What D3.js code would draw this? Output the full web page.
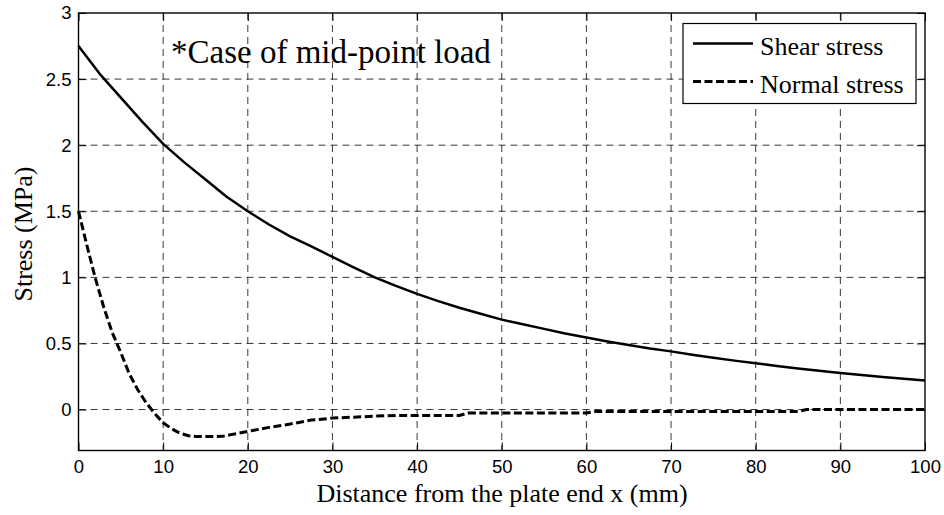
<!DOCTYPE html>
<html><head><meta charset="utf-8">
<script src="https://cdn.jsdelivr.net/npm/d3@7"></script>
<style>body{margin:0;background:#fff;}svg{display:block;}</style>
</head><body>
<script>
const shearX = [0,2.5,5,7.5,10,12.5,15,17.5,20,22.5,25,27.5,30,32.5,35,37.5,40,42.5,45,47.5,50,52.5,55,57.5,60,62.5,65,67.5,70,72.5,75,77.5,80,82.5,85,87.5,90,92.5,95,97.5,100];
const shearY = [2.75,2.54,2.36,2.18,2.01,1.87,1.74,1.61,1.50,1.40,1.31,1.235,1.155,1.075,1.0,0.935,0.875,0.82,0.77,0.725,0.68,0.645,0.61,0.575,0.545,0.515,0.488,0.462,0.44,0.415,0.392,0.37,0.35,0.33,0.311,0.293,0.276,0.261,0.246,0.232,0.22];
const normalX = [0,1,2,3,4,5,6,7,8,9,10,11,12,13,14,15,16,17,18,20,22.5,25,27.5,30,32.5,35,37.5,45,46,60,61,85,86,100];
const normalY = [1.5,1.24,0.99,0.77,0.58,0.43,0.27,0.15,0.05,-0.03,-0.10,-0.145,-0.18,-0.198,-0.205,-0.205,-0.205,-0.203,-0.19,-0.166,-0.135,-0.11,-0.08,-0.065,-0.058,-0.05,-0.045,-0.045,-0.027,-0.027,-0.015,-0.015,0,0];
const xTicks = [0,10,20,30,40,50,60,70,80,90,100];
const yTicks = [0,0.5,1,1.5,2,2.5,3];
const seriesNames = ["Shear stress","Normal stress"];
const xLabel = "Distance from the plate end x (mm)";
const yLabel = "Stress (MPa)";
const note = "*Case of mid-point load";

const W = 944, H = 515;
const L = 78.5, R = 925, T = 13, B = 450.5;
const svg = d3.select("body").append("svg").attr("width", W).attr("height", H);
const x = d3.scaleLinear().domain([0,100]).range([L,R]);
const y = d3.scaleLinear().domain([-0.31,3]).range([B,T]);

// grid
const g = svg.append("g");
g.selectAll(".gx").data(xTicks.slice(1,-1)).enter().append("line")
  .attr("x1", d=>x(d)).attr("x2", d=>x(d)).attr("y1", T).attr("y2", B)
  .attr("stroke", "#222").attr("stroke-width", 0.9).attr("stroke-dasharray", "7,5");
g.selectAll(".gy").data(yTicks.slice(0,-1)).enter().append("line")
  .attr("x1", L).attr("x2", R).attr("y1", d=>y(d)).attr("y2", d=>y(d))
  .attr("stroke", "#222").attr("stroke-width", 0.9).attr("stroke-dasharray", "7,5");

// axes
const tickFont = "'Liberation Sans', Arial, sans-serif";
const ax = svg.append("g").attr("transform", `translate(0,${B})`)
  .call(d3.axisBottom(x).tickValues(xTicks).tickSize(-8).tickPadding(9.5).tickFormat(d3.format("d")));
const axT = svg.append("g").attr("transform", `translate(0,${T})`)
  .call(d3.axisTop(x).tickValues(xTicks).tickSize(-8).tickFormat(""));
const ay = svg.append("g").attr("transform", `translate(${L},0)`)
  .call(d3.axisLeft(y).tickValues(yTicks).tickSize(-8).tickPadding(7).tickFormat(d=>String(d)));
const ayR = svg.append("g").attr("transform", `translate(${R},0)`)
  .call(d3.axisRight(y).tickValues(yTicks).tickSize(-8).tickFormat(""));
[ax,axT,ay,ayR].forEach(a=>{
  a.select(".domain").remove();
  a.selectAll(".tick line").attr("stroke","#000").attr("stroke-width",1);
  a.selectAll("text").attr("font-family", tickFont).attr("font-size", 18.5).attr("fill","#000");
});

// lines
const line = d3.line().x(d=>x(d[0])).y(d=>y(d[1]));
svg.append("path").datum(shearX.map((v,i)=>[v,shearY[i]])).attr("d", line)
  .attr("fill","none").attr("stroke","#000").attr("stroke-width",2.5).attr("stroke-linejoin","round");
svg.append("path").datum(normalX.map((v,i)=>[v,normalY[i]])).attr("d", line)
  .attr("fill","none").attr("stroke","#000").attr("stroke-width",3).attr("stroke-dasharray","8,3.5");

svg.append("rect").attr("x",L).attr("y",T).attr("width",R-L).attr("height",B-T)
  .attr("fill","none").attr("stroke","#000").attr("stroke-width",1.4);

// texts
const serif = "'Liberation Serif', 'Times New Roman', serif";
svg.append("text").attr("x", 502).attr("y", 502).attr("text-anchor","middle")
  .attr("font-family", serif).attr("font-size", 26).text(xLabel);
svg.append("text").attr("transform", `translate(32,234) rotate(-90)`).attr("text-anchor","middle")
  .attr("font-family", serif).attr("font-size", 26).text(yLabel);
svg.append("text").attr("x", 171).attr("y", 63).attr("font-family", serif).attr("font-size", 33).text(note);

// legend
const lg = svg.append("g");
lg.append("rect").attr("x",683).attr("y",23.5).attr("width",233).attr("height",80)
  .attr("fill","#fff").attr("stroke","#000").attr("stroke-width",1.2);
const legLine = [43.5, 81.5];
lg.append("line").attr("x1",693).attr("x2",753).attr("y1",legLine[0]).attr("y2",legLine[0])
  .attr("stroke","#000").attr("stroke-width",2.5);
lg.append("line").attr("x1",693).attr("x2",753).attr("y1",legLine[1]).attr("y2",legLine[1])
  .attr("stroke","#000").attr("stroke-width",3).attr("stroke-dasharray","8,3.5");
lg.selectAll(".lt").data(seriesNames).enter().append("text")
  .attr("x",760).attr("y",(d,i)=>legLine[i]+11.5).attr("font-family",serif).attr("font-size",26).text(d=>d);
</script>
</body></html>
